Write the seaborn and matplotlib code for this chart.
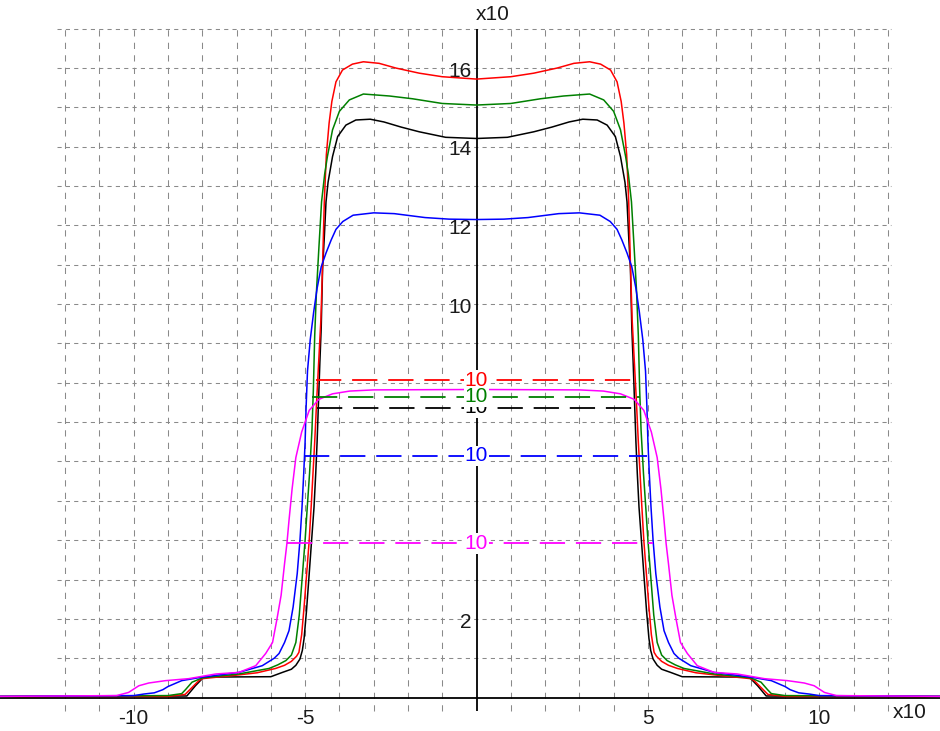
import matplotlib
matplotlib.use("Agg")
import matplotlib.pyplot as plt
import seaborn as sns
import pandas as pd

# ---------------- data (display units x10) ----------------
red_x = [-13.9, -9.0, -8.5, -8.34, -8.1, -8.0, -7.0, -6.4, -5.86, -5.6, -5.4, -5.25, -5.18, -5.1, -5.03,
         -4.95, -4.88, -4.82, -4.77, -4.72, -4.66, -4.6, -4.54, -4.49, -4.44, -4.38, -4.3, -4.22, -4.1,
         -3.91, -3.62, -3.3, -2.84, -2.35, -1.67, -1.0, 0.0,
         1.0, 1.67, 2.35, 2.84, 3.3, 3.62, 3.91, 4.1, 4.22, 4.3, 4.38, 4.44, 4.49, 4.54, 4.6, 4.66,
         4.72, 4.77, 4.82, 4.88, 4.95, 5.03, 5.1, 5.18, 5.25, 5.4, 5.6, 5.86, 6.4, 7.0, 8.0, 8.1, 8.34,
         8.5, 9.0, 13.6]
red_y = [0.03, 0.03, 0.08, 0.22, 0.43, 0.48, 0.57, 0.63, 0.74, 0.82, 0.92, 1.05, 1.15, 1.6, 2.3,
         3.2, 4.0, 4.9, 5.7, 6.5, 7.6, 8.6, 9.6, 11.0, 12.6, 13.8, 14.6, 15.15, 15.65,
         15.95, 16.1, 16.16, 16.12, 16.0, 15.87, 15.78, 15.72,
         15.78, 15.87, 16.0, 16.12, 16.16, 16.1, 15.95, 15.65, 15.15, 14.6, 13.8, 12.6, 11.0, 9.6, 8.6, 7.6,
         6.5, 5.7, 4.9, 4.0, 3.2, 2.3, 1.6, 1.15, 1.05, 0.92, 0.82, 0.74, 0.63, 0.57, 0.48, 0.43, 0.22,
         0.08, 0.03, 0.03]

green_x = [-13.9, -9.0, -8.6, -8.49, -8.3, -8.0, -6.93, -6.05, -5.8, -5.56, -5.4, -5.27, -5.17, -5.08,
           -5.0, -4.94, -4.87, -4.8, -4.76, -4.72, -4.67, -4.6, -4.52, -4.43, -4.35, -4.2, -4.0, -3.71,
           -3.3, -2.54, -1.87, -1.0, 0.0,
           1.0, 1.87, 2.54, 3.3, 3.71, 4.0, 4.2, 4.35, 4.43, 4.52, 4.6, 4.67, 4.72, 4.76, 4.8, 4.87,
           4.94, 5.0, 5.08, 5.17, 5.27, 5.4, 5.56, 5.8, 6.05, 6.93, 8.0, 8.3, 8.49, 8.6, 9.0, 13.6]
green_y = [0.03, 0.05, 0.1, 0.2, 0.39, 0.5, 0.6, 0.74, 0.83, 0.94, 1.08, 1.4, 2.1, 3.1,
           4.0, 4.8, 5.7, 6.8, 7.8, 9.2, 10.3, 11.4, 12.6, 13.3, 13.75, 14.43, 14.9, 15.19,
           15.34, 15.29, 15.22, 15.1, 15.06,
           15.1, 15.22, 15.29, 15.34, 15.19, 14.9, 14.43, 13.75, 13.3, 12.6, 11.4, 10.3, 9.2, 7.8, 6.8, 5.7,
           4.8, 4.0, 3.1, 2.1, 1.4, 1.08, 0.94, 0.83, 0.74, 0.6, 0.5, 0.39, 0.2, 0.1, 0.05, 0.03]

black_x = [-13.9, -8.45, -8.2, -8.0, -7.9, -6.0, -5.66, -5.4, -5.27, -5.15, -5.08, -5.03, -4.96, -4.88,
           -4.81, -4.74, -4.69, -4.65, -4.61, -4.57, -4.53, -4.49, -4.44, -4.39, -4.33, -4.2, -4.05,
           -3.81, -3.52, -3.1, -2.7, -2.2, -1.67, -0.9, 0.0,
           0.9, 1.67, 2.2, 2.7, 3.1, 3.52, 3.81, 4.05, 4.2, 4.33, 4.39, 4.44, 4.49, 4.53, 4.57, 4.61,
           4.65, 4.69, 4.74, 4.81, 4.88, 4.96, 5.03, 5.08, 5.15, 5.27, 5.4, 5.66, 6.0, 7.9, 8.0, 8.2,
           8.45, 13.6]
black_y = [0.02, 0.04, 0.3, 0.48, 0.52, 0.53, 0.64, 0.72, 0.82, 0.98, 1.2, 1.5, 2.2, 3.15,
           4.0, 4.84, 5.7, 6.5, 7.5, 8.5, 9.4, 10.9, 11.7, 12.6, 13.1, 13.75, 14.26,
           14.55, 14.68, 14.7, 14.63, 14.5, 14.38, 14.24, 14.21,
           14.24, 14.38, 14.5, 14.63, 14.7, 14.68, 14.55, 14.26, 13.75, 13.1, 12.6, 11.7, 10.9, 9.4, 8.5, 7.5,
           6.5, 5.7, 4.84, 4.0, 3.15, 2.2, 1.5, 1.2, 0.98, 0.82, 0.72, 0.64, 0.53, 0.52, 0.48, 0.3,
           0.04, 0.02]

blue_x = [-13.9, -10.0, -9.7, -9.4, -9.15, -9.0, -8.6, -8.0, -6.93, -6.25, -5.9, -5.76, -5.6, -5.47,
          -5.35, -5.23, -5.15, -5.09, -5.04, -5.0, -4.97, -4.93, -4.85, -4.75, -4.65, -4.53, -4.39,
          -4.24, -4.1, -3.9, -3.6, -3.0, -2.4, -1.5, -0.8, 0.0,
          0.8, 1.5, 2.4, 3.0, 3.6, 3.9, 4.1, 4.24, 4.39, 4.53, 4.65, 4.75, 4.85, 4.93, 4.97, 5.0,
          5.04, 5.09, 5.15, 5.23, 5.35, 5.47, 5.6, 5.76, 5.9, 6.25, 6.93, 8.0, 8.6, 9.0, 9.15, 9.4,
          9.7, 10.0, 13.6]
blue_y = [0.03, 0.05, 0.09, 0.12, 0.2, 0.28, 0.43, 0.52, 0.64, 0.81, 1.0, 1.12, 1.4, 1.7,
          2.3, 3.15, 4.0, 4.84, 5.7, 6.5, 7.4, 8.3, 9.1, 9.8, 10.4, 10.95, 11.3,
          11.63, 11.9, 12.1, 12.26, 12.32, 12.3, 12.2, 12.16, 12.15,
          12.16, 12.2, 12.3, 12.32, 12.26, 12.1, 11.9, 11.63, 11.3, 10.95, 10.4, 9.8, 9.1, 8.3, 7.4, 6.5,
          5.7, 4.84, 4.0, 3.15, 2.3, 1.7, 1.4, 1.12, 1.0, 0.81, 0.64, 0.52, 0.43, 0.28, 0.2, 0.12,
          0.09, 0.05, 0.03]

magenta_x = [-13.9, -10.5, -10.15, -9.85, -9.56, -9.07, -8.4, -7.6, -6.93, -6.44, -6.15, -5.95, -5.82,
             -5.7, -5.6, -5.53, -5.47, -5.38, -5.27, -5.1, -4.88, -4.6, -4.2, -3.7, -3.0, 0.0,
             3.0, 3.7, 4.2, 4.6, 4.88, 5.1, 5.27, 5.38, 5.47, 5.53, 5.6, 5.7, 5.82, 5.95, 6.15, 6.44,
             6.93, 7.6, 8.4, 9.07, 9.56, 9.85, 10.15, 10.5, 13.6]
magenta_y = [0.03, 0.05, 0.13, 0.3, 0.37, 0.43, 0.48, 0.6, 0.64, 0.81, 1.12, 1.4, 2.0,
             2.6, 3.4, 3.92, 4.5, 5.3, 6.1, 6.75, 7.3, 7.58, 7.72, 7.79, 7.82, 7.83,
             7.82, 7.79, 7.72, 7.58, 7.3, 6.75, 6.1, 5.3, 4.5, 3.92, 3.4, 2.6, 2.0, 1.4, 1.12, 0.81,
             0.64, 0.6, 0.48, 0.43, 0.37, 0.3, 0.13, 0.05, 0.03]

series_names = ["black", "red", "green", "blue", "magenta"]
series_colors = ["#000000", "#ff0000", "#008000", "#0000ff", "#ff00ff"]

# half-maximum markers (dashed) and their labels
fwhm_names = ["red", "black", "green", "blue", "magenta"]
fwhm_level = [8.07, 7.36, 7.64, 6.14, 3.92]
fwhm_left = [-4.68, -4.64, -4.8, -5.03, -5.53]
fwhm_right = [4.62, 4.56, 4.77, 4.97, 5.15]
fwhm_label = ["10", "10", "10", "10", "10"]

x_ticks = [-10, -5, 5, 10]
x_ticklabels = ["-10", "-5", "5", "10"]
# labels for 4, 6 and 8 are hidden behind the "10" markers in the reference
y_ticks = [2, 10, 12, 14, 16]
y_ticklabels = ["2", "10", "12", "14", "16"]
grid_x = [-12, -11, -10, -9, -8, -7, -6, -5, -4, -3, -2, -1, 1, 2, 3, 4, 5, 6, 7, 8, 9, 10, 11, 12]
grid_y = [1, 2, 3, 4, 5, 6, 7, 8, 9, 10, 11, 12, 13, 14, 15, 16, 17]

# ---------------- figure ----------------
sns.set_theme(style="white")
plt.rcParams["font.family"] = ["Liberation Sans Narrow", "Liberation Sans", "DejaVu Sans"]

fig = plt.figure(figsize=(9.4, 7.31), dpi=100)
ax = fig.add_axes([0, 0, 1, 1])
ax.set_xlim(-13.9, 13.52)
ax.set_ylim(-0.85, 17.73)
ax.axis("off")

grid_col = "#8a8a8a"
ax.hlines(grid_y, -12.25, 12.1, colors=grid_col, linewidth=0.75,
          linestyles=[(0, (4, 4))], zorder=1)
ax.vlines(grid_x, -0.33, 17.0, colors=grid_col, linewidth=0.75,
          linestyles=[(0, (6, 6))], zorder=1)

# main axes lines
ax.axhline(0, color="black", linewidth=1.3, zorder=1.5)
ax.vlines([0], -0.33, 17.0, colors="black", linewidth=1.3, zorder=1.5)

# tick labels
txt_col = "#1a1a1a"
fs = 15
for v, t in zip(x_ticks, x_ticklabels):
    ax.text(v, -0.52, t, ha="center", va="center", fontsize=fs, color=txt_col, zorder=3)
for v, t in zip(y_ticks, y_ticklabels):
    ax.text(-0.14, v - 0.08, t, ha="right", va="center", fontsize=fs, color=txt_col, zorder=3)
ax.text(0.48, 17.35, "x10", ha="center", va="center", fontsize=fs, color=txt_col)
ax.text(12.65, -0.37, "x10", ha="center", va="center", fontsize=fs, color=txt_col)

# curves
frames = []
for name, xs, ys in [("black", black_x, black_y), ("red", red_x, red_y), ("green", green_x, green_y),
                     ("blue", blue_x, blue_y), ("magenta", magenta_x, magenta_y)]:
    frames.append(pd.DataFrame({"x": xs, "y": ys, "series": name}))
df = pd.concat(frames, ignore_index=True)
sns.lineplot(data=df, x="x", y="y", hue="series", hue_order=series_names,
             palette=dict(zip(series_names, series_colors)), estimator=None, sort=False,
             legend=False, linewidth=1.1, ax=ax, zorder=4)

# dashed half-maximum lines with labels
cmap = dict(zip(series_names, series_colors))
for name, lev, xl, xr, lab in zip(fwhm_names, fwhm_level, fwhm_left, fwhm_right, fwhm_label):
    ax.hlines([lev], xl, xr, colors=cmap[name], linewidth=1.3, linestyles=[(0, (14, 6))], zorder=5)
    ax.text(0, lev, lab, ha="center", va="center", fontsize=fs, color=cmap[name], zorder=6,
            bbox=dict(facecolor="white", edgecolor="none", pad=0.6))

fig.savefig("out.png", dpi=100)
